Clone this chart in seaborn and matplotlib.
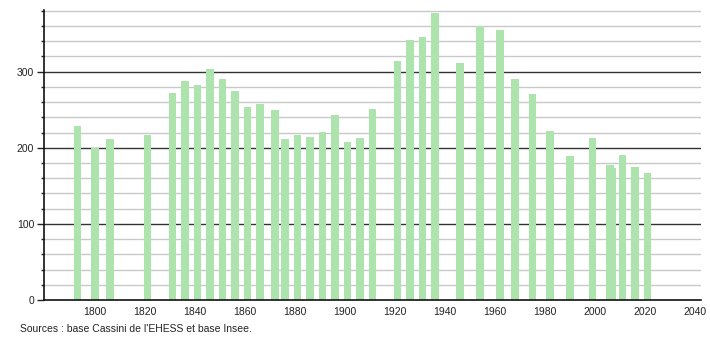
import matplotlib
matplotlib.use("Agg")
import matplotlib.pyplot as plt
import seaborn as sns
import pandas as pd
from matplotlib.ticker import MultipleLocator

years = [1793, 1800, 1806, 1821, 1831, 1836, 1841, 1846, 1851, 1856, 1861, 1866,
         1872, 1876, 1881, 1886, 1891, 1896, 1901, 1906, 1911, 1921, 1926, 1931,
         1936, 1946, 1954, 1962, 1968, 1975, 1982, 1990, 1999, 2006, 2007, 2011,
         2016, 2021]
population = [229, 200, 212, 217, 272, 288, 283, 303, 291, 275, 254, 257,
              250, 212, 217, 214, 221, 243, 207, 213, 251, 314, 341, 345,
              377, 311, 360, 355, 290, 270, 222, 189, 213, 178, 174, 190,
              175, 167]
x_ticks = list(range(1800, 2041, 20))
y_ticks = [0, 100, 200, 300]
source_text = "Sources : base Cassini de l'EHESS et base Insee."

df = pd.DataFrame({"year": years, "pop": population})

sns.set_style("white")
plt.rcParams["font.family"] = ["Liberation Sans", "DejaVu Sans"]

fig = plt.figure(figsize=(7.1, 3.4), dpi=100)
ax = fig.add_axes([44 / 710, 1 - 300 / 340, (701 - 44) / 710, 290 / 340])

ax.set_ylim(0, 381)
ax.set_xlim(1779.6, 2042.4)

# grid
ax.yaxis.set_major_locator(MultipleLocator(100))
ax.yaxis.set_minor_locator(MultipleLocator(20))
ax.grid(False)
for v in range(20, 381, 20):
    if v % 100 == 0:
        ax.axhline(v, color="#333333", lw=1.0, zorder=0)
    else:
        ax.axhline(v, color="#c8c8c8", lw=1.0, zorder=0)

sns.barplot(data=df, x="year", y="pop", native_scale=True, color="#ade4ad",
            saturation=1, width=3.1, ax=ax, zorder=2, linewidth=0,
            edgecolor="none")

ax.set_xticks(x_ticks)
ax.set_xticklabels([str(t) for t in x_ticks])
ax.set_yticks(y_ticks)
ax.set_yticklabels([str(t) for t in y_ticks])
ax.set_xlabel("")
ax.set_ylabel("")

ax.tick_params(axis="x", length=0, labelsize=7.5, pad=5, colors="#222222")
ax.tick_params(axis="y", which="major", length=5, width=1, labelsize=7.5,
               pad=2, colors="#222222", left=True)
ax.tick_params(axis="y", which="minor", length=2, width=1, left=True,
               color="#222222")

for s in ["top", "right"]:
    ax.spines[s].set_visible(False)
for s in ["left", "bottom"]:
    ax.spines[s].set_color("#111111")
    ax.spines[s].set_linewidth(1.2)
    ax.spines[s].set_zorder(3)

fig.text(20 / 710, 1 - 329 / 340, source_text, fontsize=7.5, va="center",
         ha="left", color="#222222")

fig.savefig("out.png", dpi=100)
